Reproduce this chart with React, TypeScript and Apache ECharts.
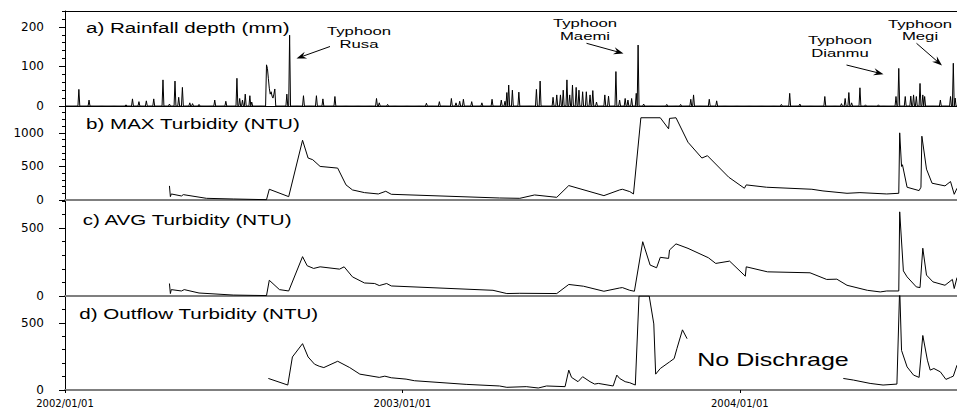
import React, { useEffect, useRef } from "react";
import * as echarts from "echarts";

// ---- data (x = days since 2002/01/01) ----
const DAY_MAX = 965;
const xTickDays = [0, 365, 730];
const xTickLabels = ["2002/01/01", "2003/01/01", "2004/01/01"];

// daily rainfall (mm); days not listed had no rain
const rainDays: [number, number][] = [
  [15, 42], [26, 15], [66, 3], [73, 18], [80, 11], [88, 13], [96, 18], [106, 66], [113, 5],
  [119, 63], [123, 22], [127, 47], [135, 8], [138, 6], [145, 4], [162, 15], [174, 12],
  [186, 70], [189, 19], [192, 15], [195, 30], [200, 26], [202, 10],
  [218, 104], [219, 95], [220, 70], [221, 45], [222, 30], [223, 36], [224, 25], [225, 20], [226, 30], [227, 43],
  [240, 30], [243, 179], [258, 26], [272, 26], [279, 18], [292, 24], [337, 19], [340, 8], [349, 4],
  [391, 7], [405, 11], [418, 19], [423, 8], [427, 12], [431, 17], [440, 11], [451, 8], [462, 17],
  [472, 15], [476, 12], [478, 34], [480, 53], [484, 40], [491, 35], [510, 42], [514, 63], [528, 22],
  [532, 28], [536, 28], [539, 40], [543, 66], [546, 28], [549, 53], [553, 47], [556, 40], [560, 36],
  [564, 36], [568, 28], [571, 39], [575, 10], [584, 28], [588, 25], [596, 87], [600, 15], [606, 19],
  [609, 15], [613, 19], [618, 32], [620, 154], [626, 5], [651, 4], [666, 4], [677, 17], [680, 28],
  [697, 17], [705, 13], [775, 4], [784, 32], [795, 5], [822, 24], [840, 6], [844, 19], [848, 34],
  [851, 8], [860, 46], [866, 3], [880, 3], [899, 24], [902, 95], [909, 24], [915, 25], [918, 28],
  [921, 24], [925, 57], [928, 28], [930, 24], [947, 15], [958, 24], [961, 108], [963, 20],
];

const maxTurbidity: [number, number][] = [
  [113, 210], [114, 50], [115, 90], [126, 60], [128, 80], [153, 25], [182, 15], [218, 5], [221, 160],
  [242, 50], [257, 890], [263, 625], [268, 600], [276, 500], [295, 475], [304, 225], [311, 150],
  [324, 110], [339, 90], [347, 130], [353, 85], [470, 30], [492, 25], [508, 75], [532, 40], [545, 215],
  [583, 65], [600, 150], [603, 160], [611, 125], [615, 90], [623, 1225], [644, 1225], [653, 1060],
  [654, 1215], [661, 1225], [674, 860], [689, 625], [695, 660], [718, 340], [735, 175], [737, 225],
  [759, 190], [808, 160], [820, 135], [846, 100], [860, 110], [889, 90], [902, 100], [903, 1000],
  [905, 500], [906, 525], [911, 190], [924, 140], [926, 190], [927, 950], [932, 460], [938, 250],
  [952, 210], [958, 275], [962, 85], [965, 175],
];

const avgTurbidity: [number, number][] = [
  [113, 92], [114, 18], [115, 47], [126, 37], [129, 47], [145, 22], [182, 7], [218, 3], [221, 116],
  [232, 47], [242, 37], [257, 290], [262, 223], [269, 203], [276, 215], [297, 198], [302, 215],
  [311, 141], [324, 96], [335, 92], [340, 77], [348, 92], [353, 74], [463, 42], [478, 18], [492, 20],
  [532, 18], [545, 85], [561, 72], [583, 35], [600, 59], [603, 62], [611, 42], [616, 35], [625, 400],
  [633, 228], [640, 208], [644, 285], [653, 277], [654, 339], [661, 384], [674, 351], [696, 282],
  [704, 240], [719, 257], [736, 146], [737, 215], [760, 178], [806, 171], [824, 122], [835, 124],
  [846, 79], [868, 42], [882, 30], [889, 37], [902, 37], [903, 620], [907, 185], [911, 141], [921, 67],
  [925, 62], [928, 352], [932, 154], [939, 104], [952, 79], [960, 122], [962, 55], [965, 136],
];

const outflowTurbidity: [number, number | null][] = [
  [220, 86], [241, 37], [246, 246], [257, 345], [263, 246], [270, 192], [275, 177], [280, 167],
  [295, 214], [308, 167], [319, 118], [340, 94], [346, 103], [353, 91], [369, 81], [378, 69],
  [434, 42], [470, 30], [478, 20], [499, 25], [512, 15], [521, 30], [541, 25], [545, 148], [548, 94],
  [555, 62], [560, 99], [568, 62], [573, 44], [577, 49], [593, 30], [597, 111], [600, 86], [606, 62],
  [611, 54], [617, 37], [621, 700], [632, 700], [637, 492], [639, 118], [644, 160], [654, 209],
  [659, 234], [662, 308], [668, 448], [673, 382],
  [760, null],
  [842, 86], [853, 74], [871, 49], [885, 37], [900, 44], [903, 760], [905, 295], [911, 172],
  [918, 111], [924, 94], [928, 406], [933, 222], [936, 148], [940, 160], [947, 135], [953, 79],
  [958, 94], [961, 103], [965, 185],
];

const panelTitles = [
  "a) Rainfall depth (mm)",
  "b) MAX Turbidity (NTU)",
  "c) AVG Turbidity (NTU)",
  "d) Outflow Turbidity (NTU)",
];
const yMax = [240, 1400, 700, 700];
const yMajorTicks = [[0, 100, 200], [0, 500, 1000], [0, 500], [0, 500]];
const yMinorStep = [20, 100, 100, 100];

const typhoons = [
  { lines: ["Typhoon", "Rusa"] },
  { lines: ["Typhoon", "Maemi"] },
  { lines: ["Typhoon", "Dianmu"] },
  { lines: ["Typhoon", "Megi"] },
];
const noDischargeText = "No Dischrage";

// ---- layout ----
const GRIDS = [
  { top: 11, height: 95 },
  { top: 106, height: 94 },
  { top: 201, height: 95 },
  { top: 296, height: 94 },
];
const TITLE_POS = [
  [86, 28.5],
  [86, 124.5],
  [82.7, 220.5],
  [79.3, 314.5],
];
const TYPHOON_LAYOUT = [
  { x: 359, y: [31, 44] },
  { x: 585, y: [23.5, 36.5] },
  { x: 840, y: [40.5, 53.5] },
  { x: 920, y: [23.8, 36] },
];
const ARROWS = [
  [330, 46.5, 296.5, 58.5],
  [586.5, 43.3, 623.5, 53.5],
  [846.5, 65, 883.5, 74.2],
  [916.5, 43.3, 942, 65.5],
];

const FONT_AXIS = "DejaVu Sans";
const FONT_TEXT = "Liberation Sans";
const SX = 1.47;

function arrowShapes(x1: number, y1: number, x2: number, y2: number) {
  const dx = x2 - x1;
  const dy = y2 - y1;
  const len = Math.sqrt(dx * dx + dy * dy);
  const ux = dx / len;
  const uy = dy / len;
  const L = 10;
  const W = 3.6;
  const bx = x2 - ux * L;
  const by = y2 - uy * L;
  const nx = x2 - ux * L * 0.65;
  const ny = y2 - uy * L * 0.65;
  return [
    {
      type: "line",
      shape: { x1, y1, x2: nx, y2: ny },
      style: { stroke: "#000", lineWidth: 1 },
      silent: true,
    },
    {
      type: "polygon",
      shape: {
        points: [
          [x2, y2],
          [bx - uy * W, by + ux * W],
          [nx, ny],
          [bx + uy * W, by - ux * W],
        ],
      },
      style: { fill: "#000" },
      silent: true,
    },
  ];
}

export default function App() {
  const ref = useRef<HTMLDivElement>(null);

  useEffect(() => {
    if (!ref.current) return;
    const chart = echarts.init(ref.current, undefined, { renderer: "svg" });

    const rainMap = new Map<number, number>(rainDays);
    const rainSeries: [number, number][] = [];
    for (let d = 0; d <= DAY_MAX; d++) rainSeries.push([d, rainMap.get(d) ?? 0]);
    const seriesData = [rainSeries, maxTurbidity, avgTurbidity, outflowTurbidity];

    const grid = GRIDS.map((g) => ({ left: 65, right: 0, top: g.top, height: g.height }));

    const xAxis: any[] = GRIDS.map((_, i) => ({
      type: "value",
      gridIndex: i,
      position: "bottom",
      min: 0,
      max: DAY_MAX,
      interval: 365,
      axisLine: {
        show: true,
        onZero: false,
        lineStyle: { color: i === 0 ? "#000" : "#7f7f7f", width: i === 0 ? 1 : 2 },
      },
      axisTick: { show: i === 3, length: 3, lineStyle: { color: "#000" }, customValues: xTickDays },
      axisLabel: {
        show: i === 3,
        fontFamily: FONT_AXIS,
        fontSize: 10,
        color: "#000",
        margin: 8,
        customValues: xTickDays,
        formatter: (v: number) => {
          const k = xTickDays.indexOf(Math.round(v));
          return k >= 0 ? xTickLabels[k] : "";
        },
      },
      splitLine: { show: false },
    }));
    xAxis.push({
      type: "value",
      gridIndex: 0,
      position: "top",
      min: 0,
      max: DAY_MAX,
      axisLine: { show: true, onZero: false, lineStyle: { color: "#000", width: 1 } },
      axisTick: { show: false },
      axisLabel: { show: false },
      splitLine: { show: false },
    });

    const yAxis: any[] = [];
    GRIDS.forEach((_, i) => {
      yAxis.push({
        type: "value",
        gridIndex: i,
        position: "left",
        min: 0,
        max: yMax[i],
        interval: yMajorTicks[i][1],
        axisLine: { show: true, onZero: false, lineStyle: { color: "#000", width: 1 } },
        axisTick: { show: true, length: 6, lineStyle: { color: "#000" }, customValues: yMajorTicks[i] },
        axisLabel: {
          fontFamily: FONT_AXIS,
          fontSize: 12,
          color: "#000",
          margin: 21,
          customValues: yMajorTicks[i],
          formatter: (v: number) => (yMajorTicks[i].indexOf(v) >= 0 ? String(v) : ""),
        },
        splitLine: { show: false },
      });
      yAxis.push({
        type: "value",
        gridIndex: i,
        position: "left",
        offset: 0,
        min: 0,
        max: yMax[i],
        interval: yMinorStep[i],
        axisLine: { show: false, onZero: false },
        axisTick: { show: true, length: 3, lineStyle: { color: "#000" } },
        axisLabel: { show: false },
        splitLine: { show: false },
      });
    });

    const series = seriesData.map((data, i) => ({
      type: "line",
      xAxisIndex: i,
      yAxisIndex: 2 * i,
      data,
      showSymbol: false,
      symbol: "none",
      connectNulls: false,
      clip: true,
      lineStyle: { color: "#000", width: 1 },
      silent: true,
    }));

    const graphic: any[] = [];
    panelTitles.forEach((t, i) => {
      graphic.push({
        type: "text",
        x: TITLE_POS[i][0],
        y: TITLE_POS[i][1],
        scaleX: SX,
        style: {
          text: t,
          fontFamily: FONT_TEXT,
          fontSize: 14,
          fill: "#000",
          align: "left",
          verticalAlign: "middle",
        },
        silent: true,
      });
    });
    typhoons.forEach((t, i) => {
      t.lines.forEach((line, j) => {
        graphic.push({
          type: "text",
          x: TYPHOON_LAYOUT[i].x,
          y: TYPHOON_LAYOUT[i].y[j],
          scaleX: 1.52,
          style: {
            text: line,
            fontFamily: FONT_TEXT,
            fontSize: 11,
            fill: "#000",
            align: "center",
            verticalAlign: "middle",
          },
          silent: true,
        });
      });
      const a = ARROWS[i];
      graphic.push(...arrowShapes(a[0], a[1], a[2], a[3]));
    });
    graphic.push({
      type: "text",
      x: 773,
      y: 360,
      scaleX: 1.43,
      style: {
        text: noDischargeText,
        fontFamily: FONT_TEXT,
        fontSize: 17.5,
        fill: "#000",
        align: "center",
        verticalAlign: "middle",
      },
      silent: true,
    });

    chart.setOption({
      animation: false,
      backgroundColor: "#fff",
      grid,
      xAxis,
      yAxis,
      series,
      graphic,
    });

    return () => chart.dispose();
  }, []);

  return (
    <div
      ref={ref}
      style={{ position: "absolute", left: 0, top: 0, width: 957, height: 408 }}
    />
  );
}
